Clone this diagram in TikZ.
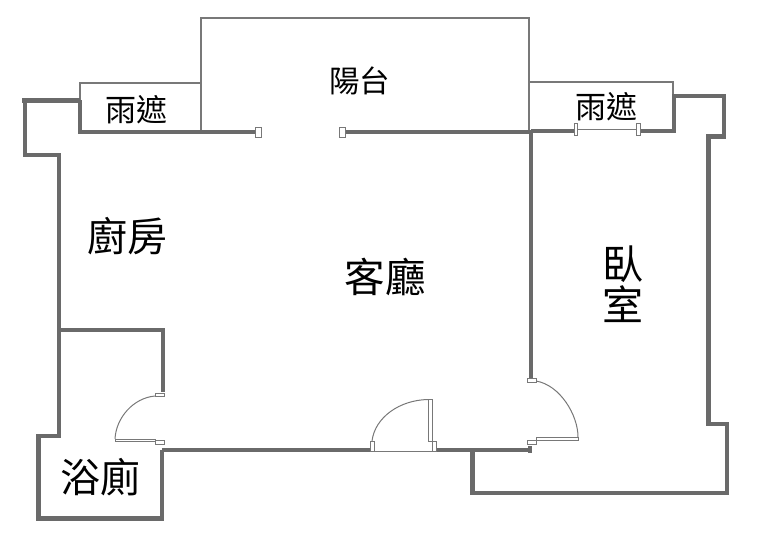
\documentclass[tikz,border=0pt]{standalone}
\usepackage{fontspec}
\setmainfont{Noto Sans CJK TC}
\newcommand{\lblsize}[1]{\fontsize{#1}{#1}\selectfont}
\definecolor{wallgray}{HTML}{6A6A6A}
\definecolor{thingray}{HTML}{787878}
\tikzset{
  x=1pt,y=-1pt,
  wall/.style={draw=wallgray,line width=4.8pt,line join=miter,line cap=butt},
  thinwall/.style={draw=thingray,line width=2.8pt,line join=miter},
  jamb/.style={draw=thingray,fill=white,line width=1pt},
  swing/.style={draw=thingray,line width=1pt},
  lbl/.style={inner sep=0pt,text=black}
}
\begin{document}
\begin{tikzpicture}
\useasboundingbox (0,0) rectangle (768,554);
% balcony and awnings
\draw[thinwall] (201,132) -- (201,18) -- (529,18) -- (529,132);
\draw[thinwall] (80,132) -- (80,83) -- (201,83);
\draw[thinwall] (529,82) -- (673,82) -- (673,96);
% outer walls
\draw[wall] (22,100.5) -- (80,100.5);
\draw[wall] (25,100.5) -- (25,155) -- (59,155) -- (59,436) -- (38.5,436) -- (38.5,518.5) -- (162,518.5) -- (162,450);
\draw[wall] (80,100) -- (80,132) -- (255,132);
\draw[wall] (345,132) -- (531,132);
\draw[wall] (531,132) -- (531,378);
\draw[wall] (59,330) -- (163,330) -- (163,392);
\draw[wall] (162,450) -- (370,450);
\draw[wall] (436,450) -- (530,450);
\draw[wall] (530,446) -- (530,453);
\draw[wall] (472.5,450) -- (472.5,493) -- (727,493) -- (727,424) -- (708.5,424) -- (708.5,136.5) -- (724,136.5) -- (724,96) -- (674,96) -- (674,131) -- (638,131);
\draw[wall] (575,131) -- (531,131);
% balcony sliding door jambs
\draw[jamb] (255.5,127.5) rectangle (261.5,137);
\draw[jamb] (339.5,127.5) rectangle (345.5,137);
% awning window
\draw[swing] (576,129) -- (638,129);
\draw[jamb] (574,123) rectangle (577.5,135);
\draw[jamb] (636.5,123) rectangle (640,135);
% bathroom door
\draw[swing] (155,396) .. controls (133,398) and (116,418) .. (115,439);
\draw[jamb] (155,393) rectangle (164.5,396.5);
\draw[jamb] (115,439) -- (155,439) -- (155,441) -- (115,441) -- cycle;
\draw[jamb] (155,440.5) rectangle (164.5,444.5);
% entrance door
\draw[swing] (372,441) .. controls (375,417) and (400,400) .. (428,399.5);
\draw[swing] (374,451.5) -- (432,451.5);
\draw[jamb] (370,441) rectangle (374,451.5);
\draw[jamb] (428,399) rectangle (432,441);
\draw[jamb] (432,441) rectangle (436,451.5);
% bedroom door
\draw[swing] (536,381) .. controls (560,385) and (578,415) .. (578,437);
\draw[jamb] (527,378.5) rectangle (536.5,382);
\draw[jamb] (536,437) rectangle (578,440);
\draw[jamb] (527,440) rectangle (536.5,444);
% labels
\node[lbl,font=\lblsize{31}] (t1) at (136,110) {雨遮};
\node[lbl,font=\lblsize{31}] (t2) at (606,107) {雨遮};
\node[lbl,font=\lblsize{30.5}] (t3) at (359.5,81) {陽台};
\node[lbl,font=\lblsize{40}] (t4) at (127.5,236) {廚房};
\node[lbl,font=\lblsize{40.5}] (t5) at (385,277) {客廳};
\node[lbl,font=\lblsize{41},align=center] (t6) at (623,284) {臥\\[0pt]室};
\node[lbl,font=\lblsize{40}] (t7) at (100,477) {浴廁};
\end{tikzpicture}
\end{document}
